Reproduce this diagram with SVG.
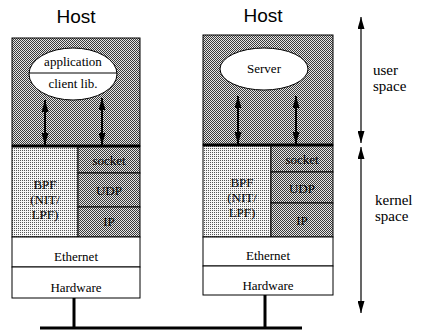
<svg xmlns="http://www.w3.org/2000/svg" width="422" height="330" viewBox="0 0 422 330">
<defs>
<pattern id="dark" width="2" height="2" patternUnits="userSpaceOnUse">
<rect width="2" height="2" fill="#e6e6e6"/>
<rect x="0" y="0" width="1" height="1" fill="#3a3a3a"/>
<rect x="1" y="1" width="1" height="1" fill="#3a3a3a"/>
</pattern>
<pattern id="light" width="2" height="2" patternUnits="userSpaceOnUse">
<rect width="2" height="2" fill="#f6f6f6"/>
<rect x="0" y="0" width="1" height="1" fill="#555"/>
</pattern>
<marker id="ah" markerUnits="userSpaceOnUse" markerWidth="12" markerHeight="7" refX="12" refY="3.5" orient="auto-start-reverse">
<path d="M0,0 L12,3.5 L0,7 z" fill="#000"/>
</marker>
</defs>
<style>
.box{stroke:#000;stroke-width:1}
.dk{fill:url(#dark)}
.lt{fill:url(#light)}
.wh{fill:#fff}
.t{font-family:"Liberation Serif","Times New Roman",serif;font-size:13px;fill:#000;text-anchor:middle}
.h{font-family:"Liberation Sans",Arial,sans-serif;font-size:19px;fill:#000;text-anchor:middle}
.s{font-family:"Liberation Serif","Times New Roman",serif;font-size:15px;fill:#000}
.thick{stroke:#000;stroke-width:3}
.arr{stroke:#000;stroke-width:2;marker-start:url(#ah);marker-end:url(#ah)}
.arr2{stroke:#000;stroke-width:1.2;marker-start:url(#ah);marker-end:url(#ah)}
</style>

<g id="host1">
<text class="h" x="76" y="23">Host</text>
<rect class="box dk" x="12" y="38" width="128" height="108"/>
</g>
<g id="app">
<ellipse cx="73" cy="74" rx="44" ry="26" fill="#fff" stroke="#000"/>
<line x1="29" y1="73" x2="117" y2="73" stroke="#000"/>
<text class="t" x="73" y="66">application</text>
<text class="t" x="73" y="88">client lib.</text>
</g>
<g id="bpf1">
<rect class="box lt" x="12" y="146" width="66" height="91"/>
<text class="t" x="45" y="189" font-size="14">BPF</text>
<text class="t" x="45" y="204" font-size="14">(NIT/</text>
<text class="t" x="45" y="219" font-size="14">LPF)</text>
</g>
<g id="socket1">
<rect class="box dk" x="78" y="146" width="62" height="27"/>
<text class="t" x="109" y="165" font-size="12">socket</text>
</g>
<g id="udp1">
<rect class="box dk" x="78" y="173" width="62" height="34"/>
<text class="t" x="109" y="195">UDP</text>
</g>
<g id="ip1">
<rect class="box dk" x="78" y="207" width="62" height="30"/>
<text class="t" x="109" y="226">IP</text>
</g>
<g id="eth1">
<rect class="box wh" x="12" y="237" width="128" height="30"/>
<text class="t" x="76" y="261">Ethernet</text>
</g>
<g id="hw1">
<rect class="box wh" x="12" y="267" width="128" height="31"/>
<text class="t" x="76" y="292">Hardware</text>
</g>

<g id="host2">
<text class="h" x="263" y="22">Host</text>
<rect class="box dk" x="203" y="35" width="130" height="110"/>
</g>
<g id="server">
<ellipse cx="264" cy="69" rx="44" ry="21" fill="#fff" stroke="#000"/>
<text class="t" x="264" y="73">Server</text>
</g>
<g id="bpf2">
<rect class="box lt" x="203" y="145" width="68" height="92"/>
<text class="t" x="242" y="187" font-size="14">BPF</text>
<text class="t" x="242" y="202" font-size="14">(NIT/</text>
<text class="t" x="242" y="217" font-size="14">LPF)</text>
</g>
<g id="socket2">
<rect class="box dk" x="271" y="145" width="62" height="27"/>
<text class="t" x="302" y="164" font-size="12">socket</text>
</g>
<g id="udp2">
<rect class="box dk" x="271" y="172" width="62" height="31"/>
<text class="t" x="302" y="193">UDP</text>
</g>
<g id="ip2">
<rect class="box dk" x="271" y="203" width="62" height="34"/>
<text class="t" x="302" y="225">IP</text>
</g>
<g id="eth2">
<rect class="box wh" x="203" y="237" width="130" height="29"/>
<text class="t" x="268" y="260">Ethernet</text>
</g>
<g id="hw2">
<rect class="box wh" x="203" y="266" width="130" height="29"/>
<text class="t" x="268" y="290">Hardware</text>
</g>

<g id="labels">
<text class="s" x="373" y="75">user</text>
<text class="s" x="373" y="91">space</text>
<text class="s" x="375" y="205">kernel</text>
<text class="s" x="375" y="221">space</text>
</g>

<g id="connectors">
<line class="thick" x1="12" y1="146" x2="140" y2="146"/>
<line class="thick" x1="203" y1="145" x2="333" y2="145"/>
<line class="arr" x1="45" y1="100" x2="45" y2="145"/>
<line class="arr" x1="102" y1="98" x2="102" y2="145"/>
<line class="arr" x1="238" y1="96" x2="238" y2="144"/>
<line class="arr" x1="296" y1="96" x2="296" y2="144"/>
<line class="arr2" x1="361" y1="17" x2="361" y2="143"/>
<line class="arr2" x1="361" y1="147" x2="361" y2="313"/>
<line class="thick" x1="74" y1="298" x2="74" y2="328"/>
<line class="thick" x1="265" y1="295" x2="265" y2="328"/>
<line class="thick" x1="40" y1="328" x2="302" y2="328"/>
</g>
</svg>
